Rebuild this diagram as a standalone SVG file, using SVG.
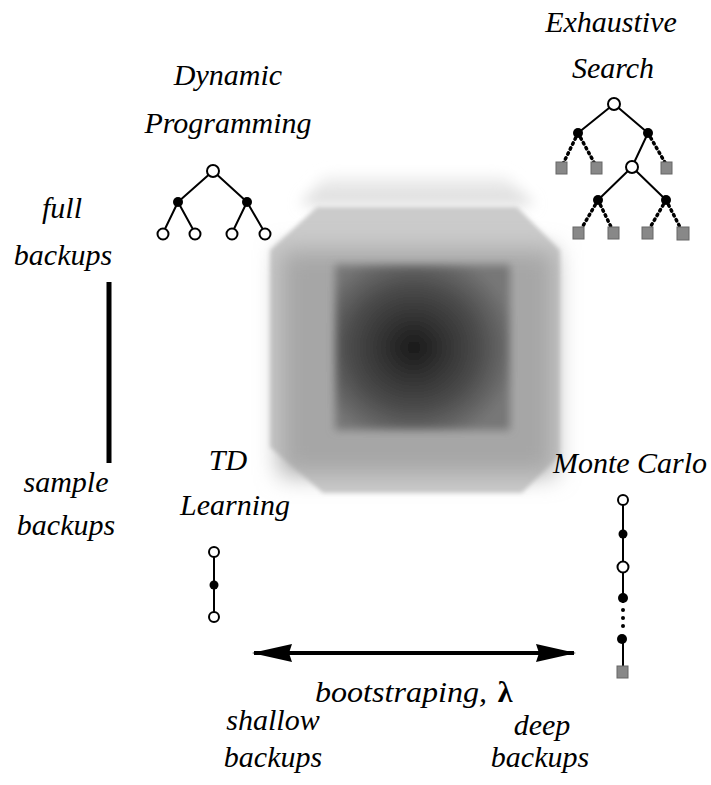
<svg xmlns="http://www.w3.org/2000/svg" width="711" height="785" viewBox="0 0 711 785">
<style>
text{font-family:"Liberation Serif","Times New Roman",serif;font-style:italic;font-size:30px;fill:#000;text-anchor:middle}
.e{stroke:#000;stroke-width:2;fill:none}
.d{stroke:#000;stroke-width:3.5;stroke-dasharray:1.5 4;stroke-linecap:round;fill:none}
.o{fill:#fff;stroke:#000;stroke-width:2}
.f{fill:#000}
.s{fill:#888;stroke:#666;stroke-width:1}
</style>
<defs>
<filter id="b0" x="-20%" y="-20%" width="140%" height="140%"><feGaussianBlur stdDeviation="2"/></filter>
<filter id="b1" x="-20%" y="-20%" width="140%" height="140%"><feGaussianBlur stdDeviation="4"/></filter>
<filter id="b3" x="-30%" y="-60%" width="160%" height="220%"><feGaussianBlur stdDeviation="7"/></filter>
<filter id="b2" x="-30%" y="-30%" width="160%" height="160%"><feGaussianBlur stdDeviation="12"/></filter>
<radialGradient id="rg" cx="0.45" cy="0.5" r="0.6"><stop offset="0" stop-color="#1a1a1a"/><stop offset="0.6" stop-color="#4a4a4a"/><stop offset="1" stop-color="#777"/></radialGradient>
<linearGradient id="tg" x1="0" y1="0" x2="0" y2="1"><stop offset="0" stop-color="#f2f2f2"/><stop offset="1" stop-color="#d8d8d8"/></linearGradient>
</defs>
<defs>
<marker id="ah" viewBox="0 0 40 18" refX="38" refY="9" markerWidth="40" markerHeight="18" markerUnits="userSpaceOnUse" orient="auto-start-reverse"><path d="M0,0 L40,9 L0,18 L3,9 z" fill="#000"/></marker>
</defs>
<g id="blob">
<polygon points="300,205 325,176 505,176 535,205" fill="url(#tg)" filter="url(#b3)"/>
<polygon points="270,250 317,207 517,207 560,250 560,455 522,493 323,493 270,447" fill="#cbcbcb" filter="url(#b0)"/>
<rect x="280" y="250" width="275" height="225" fill="#a6a6a6" filter="url(#b2)"/>
<rect x="335" y="265" width="175" height="165" fill="url(#rg)" filter="url(#b1)"/>
</g>
<g id="labels">
<text x="228" y="85">Dynamic</text>
<text x="228" y="133">Programming</text>
<text x="611" y="32">Exhaustive</text>
<text x="613" y="78">Search</text>
<text x="62" y="218">full</text>
<text x="63" y="265">backups</text>
<text x="66" y="492">sample</text>
<text x="66" y="535">backups</text>
<text x="228" y="470">TD</text>
<text x="235" y="515">Learning</text>
<text x="630" y="473">Monte Carlo</text>
<text x="315" y="702" style="text-anchor:start" textLength="172" lengthAdjust="spacingAndGlyphs">bootstraping,</text><text x="505" y="702" style="font-style:normal;font-weight:bold">λ</text>
<text x="273" y="730">shallow</text>
<text x="273" y="767">backups</text>
<text x="542" y="735">deep</text>
<text x="540" y="767">backups</text>
</g>
<g id="connectors">
<line x1="109" y1="282" x2="109" y2="463" stroke="#000" stroke-width="5"/>
<line x1="254" y1="653" x2="574" y2="653" stroke="#000" stroke-width="4" marker-start="url(#ah)" marker-end="url(#ah)"/>
</g>
<g id="dp-tree">
<path class="e" d="M213,171 L178,202 M213,171 L247,202 M178,202 L163,233 M178,202 L195,233 M247,202 L232,233 M247,202 L265,233"/>
<circle class="o" cx="213" cy="171" r="6"/>
<circle class="f" cx="178" cy="202" r="5"/><circle class="f" cx="247" cy="202" r="5"/>
<circle class="o" cx="163" cy="234" r="5.5"/><circle class="o" cx="195" cy="234" r="5.5"/><circle class="o" cx="232" cy="234" r="5.5"/><circle class="o" cx="265" cy="234" r="5.5"/>
</g>
<g id="es-tree">
<path class="e" d="M614,104 L578,133 M614,104 L648,133 M648,133 L632,167 M632,167 L598,200 M632,167 L666,200"/>
<path class="d" d="M578,133 L562,166 M578,133 L596,166 M648,133 L667,166 M598,200 L580,231 M598,200 L613,231 M666,200 L648,231 M666,200 L682,231"/>
<circle class="o" cx="614" cy="104" r="6"/>
<circle class="f" cx="578" cy="133" r="5"/><circle class="f" cx="648" cy="133" r="5"/>
<circle class="o" cx="632" cy="167" r="6"/>
<circle class="f" cx="598" cy="200" r="5"/><circle class="f" cx="666" cy="200" r="5"/>
<rect class="s" x="556" y="162" width="11" height="12"/><rect class="s" x="591" y="162" width="11" height="12"/><rect class="s" x="661" y="162" width="11" height="12"/>
<rect class="s" x="573" y="227" width="11" height="12"/><rect class="s" x="608" y="227" width="11" height="12"/><rect class="s" x="642" y="227" width="11" height="12"/><rect class="s" x="677" y="227" width="12" height="13"/>
</g>
<g id="td-chain">
<line class="e" x1="214" y1="552" x2="214" y2="617"/>
<circle class="o" cx="214" cy="552" r="5"/>
<circle class="f" cx="214" cy="585" r="4.5"/>
<circle class="o" cx="214" cy="617" r="5"/>
</g>
<g id="mc-chain">
<line class="e" x1="623" y1="500" x2="623" y2="603"/>
<line class="e" x1="623" y1="636" x2="623" y2="666"/>
<circle cx="623" cy="610" r="2" fill="#000"/><circle cx="623" cy="618" r="2" fill="#000"/><circle cx="623" cy="626" r="2" fill="#000"/>
<circle class="o" cx="623" cy="500" r="5"/>
<circle class="f" cx="623" cy="534" r="4.5"/>
<circle class="o" cx="623" cy="567" r="5.5"/>
<circle class="f" cx="623" cy="598" r="5"/>
<circle class="f" cx="622" cy="639" r="5"/>
<rect class="s" x="617" y="666" width="11" height="12"/>
</g>
</svg>
